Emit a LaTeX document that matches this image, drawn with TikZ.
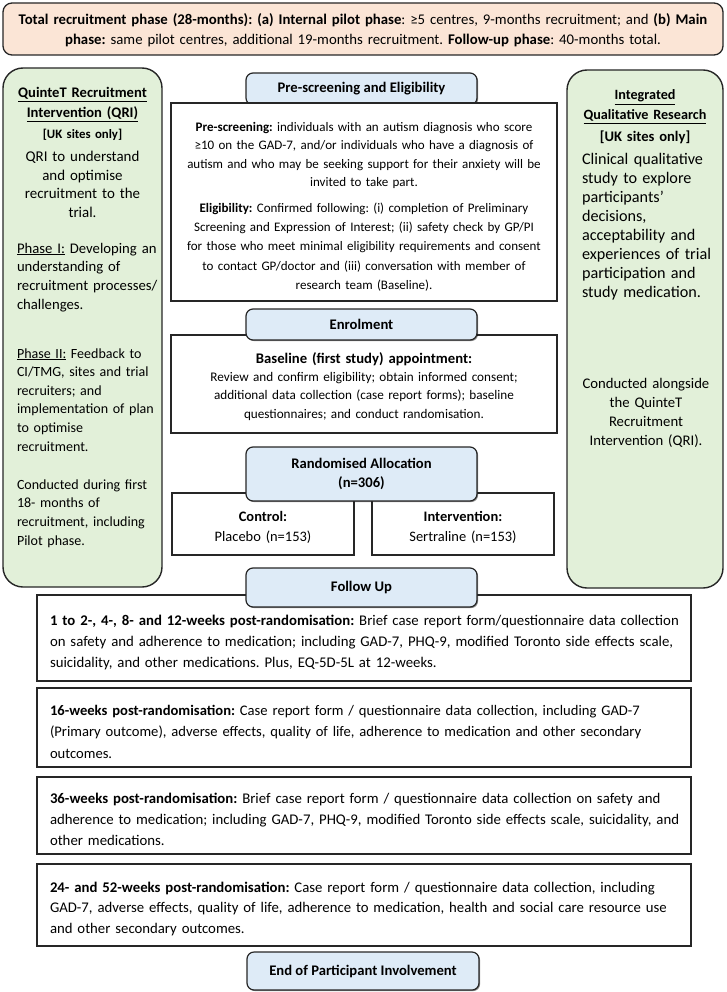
\documentclass[tikz,border=0pt]{standalone}
\usepackage{fontspec}
\setmainfont{Carlito}
\usetikzlibrary{shadows}
\definecolor{peach}{HTML}{FBE5D6}
\definecolor{lgreen}{HTML}{E2F0D9}
\definecolor{lblue}{HTML}{DEEBF7}
\definecolor{edge}{HTML}{262626}
\frenchspacing
\newcommand\fitfont[3]{%
  \setbox0=\hbox{\frenchspacing\fontsize{10}{12}\selectfont #3}%
  \dimen0=\wd0\relax
  \pgfmathsetmacro#1{0.97*10*#2/\the\dimen0}}
\begin{document}%
\fitfont\fsTop{687}{\textbf{Total recruitment phase (28-months): (a) Internal pilot phase}: ≥5 centres, 9-months recruitment; and \textbf{(b) Main}}%
\fitfont\fsQh{131}{\bfseries QuinteT Recruitment}%
\fitfont\fsQuk{79}{\bfseries [UK sites only]}%
\fitfont\fsQaim{114}{QRI to understand}%
\fitfont\fsQbodyA{139}{Phase I: Developing an}%
\fitfont\fsQbodyB{138}{implementation of plan}%
\fitfont\fsQbodyC{131}{Conducted during first}%
\fitfont\fsIh{125}{\bfseries Qualitative Research}%
\fitfont\fsIuk{90}{\bfseries [UK sites only]}%
\fitfont\fsIbody{123}{Clinical qualitative}%
\fitfont\fsIcon{129}{Conducted alongside}%
\fitfont\fsHdr{173}{\bfseries Pre-screening and Eligibility}%
\fitfont\fsPre{337}{\textbf{Pre-screening:} individuals with an autism diagnosis who score}%
\fitfont\fsEnh{218}{\bfseries Baseline (first study) appointment:}%
\fitfont\fsEnr{308}{Review and confirm eligibility; obtain informed consent;}%
\fitfont\fsCtl{109}{Sertraline (n=153)}%
\fitfont\fsFuA{627}{\textbf{1 to 2-, 4-, 8- and 12-weeks post-randomisation:} Brief case report form/questionnaire data collection}%
\fitfont\fsFuB{592}{\textbf{16-weeks post-randomisation:} Case report form / questionnaire data collection, including GAD-7}%
\fitfont\fsFuC{629}{adherence to medication; including GAD-7, PHQ-9, modified Toronto side effects scale, suicidality, and}%
\fitfont\fsFuD{613}{GAD-7, adverse effects, quality of life, adherence to medication, health and social care resource use}%
\begin{tikzpicture}[x=1pt,y=-1pt,
  every node/.style={inner sep=0pt, outer sep=0pt},
  shad/.style={drop shadow={shadow xshift=1.1pt, shadow yshift=-1.1pt, opacity=0.45, fill=black}},
  wbox/.style={draw=edge, line width=1.3pt, fill=white, rectangle, anchor=north west, shad},
  hdr/.style={draw=edge, line width=1.2pt, fill=lblue, rounded corners=7pt, minimum width=231pt, anchor=north, align=center, shad, font=\fontsize{\fsHdr}{19}\selectfont\bfseries},
  gbox/.style={draw=edge, line width=1.4pt, fill=lgreen, rounded corners=20pt, anchor=north west},
  ctext/.style={text width=#1, align=center, anchor=base},
  ltext/.style={text width=#1, align=left, anchor=base west}
]
\useasboundingbox (0,0) rectangle (726,992);

% top banner
\node[draw=edge, line width=1.3pt, fill=peach, rounded corners=9pt, minimum width=720pt, minimum height=52pt, anchor=north west] (top) at (3,3) {};
\node[ctext=718pt, font=\fontsize{\fsTop}{20}\selectfont] (toptxt) at (363,25) {\textbf{Total recruitment phase (28-months): (a) Internal pilot phase}: ≥5 centres, 9-months recruitment; and \textbf{(b) Main}\\\textbf{phase:} same pilot centres, additional 19-months recruitment. \textbf{Follow-up phase}: 40-months total.};

% left green box
\node[gbox, minimum width=159pt, minimum height=519pt] (qri) at (3,68) {};
\node[ctext=155pt, font=\fontsize{\fsQh}{20}\selectfont\bfseries] (qrih) at (82.5,98) {\underline{QuinteT Recruitment}\\\underline{Intervention (QRI)}};
\node[ctext=155pt, font=\fontsize{\fsQuk}{18}\selectfont\bfseries] (qriuk) at (82.5,138.5) {[UK sites only]};
\node[ctext=155pt, font=\fontsize{\fsQaim}{18.5}\selectfont] (qriaim) at (82.5,162) {QRI to understand\\and optimise\\recruitment to the\\trial.};
\node[ltext=150pt, font=\fontsize{\fsQbodyA}{18.7}\selectfont] (qrip1) at (17,253) {\underline{Phase I:} Developing an\\understanding of\\recruitment processes/\\challenges.};
\node[ltext=150pt, font=\fontsize{\fsQbodyB}{18.6}\selectfont] (qrip2) at (17,358) {\underline{Phase II:} Feedback to\\CI/TMG, sites and trial\\recruiters; and\\implementation of plan\\to optimise\\recruitment.};
\node[ltext=150pt, font=\fontsize{\fsQbodyC}{18.7}\selectfont] (qrip3) at (17,489) {Conducted during first\\18- months of\\recruitment, including\\Pilot phase.};

% right green box
\node[gbox, minimum width=156pt, minimum height=518pt] (iqr) at (567,70) {};
\node[ctext=152pt, font=\fontsize{\fsIh}{20}\selectfont\bfseries] (iqrh) at (645,100) {\underline{Integrated}\\\underline{Qualitative Research}};
\node[ctext=152pt, font=\fontsize{\fsIuk}{18}\selectfont\bfseries] (iqruk) at (645,142) {[UK sites only]};
\node[ltext=140pt, font=\fontsize{\fsIbody}{19}\selectfont] (iqrbody) at (582,165) {Clinical qualitative\\study to explore\\participants’\\decisions,\\acceptability and\\experiences of trial\\participation and\\study medication.};
\node[ctext=152pt, font=\fontsize{\fsIcon}{19}\selectfont] (iqrcon) at (646,388) {Conducted alongside\\the QuinteT\\Recruitment\\Intervention (QRI).};

% pre-screening
\node[hdr, minimum height=32pt] (hpre) at (361.5,73) {Pre-screening and Eligibility};
\node[wbox, minimum width=386pt, minimum height=198pt] (pre) at (171,103) {};
\node[ctext=384pt, font=\fontsize{\fsPre}{18.4}\selectfont] (pretxt1) at (364,131.5) {\textbf{Pre-screening:} individuals with an autism diagnosis who score\\≥10 on the GAD-7, and/or individuals who have a diagnosis of\\autism and who may be seeking support for their anxiety will be\\invited to take part.};
\node[ctext=384pt, font=\fontsize{\fsPre}{19.2}\selectfont] (pretxt2) at (364,212.5) {\textbf{Eligibility:} Confirmed following: (i) completion of Preliminary\\Screening and Expression of Interest; (ii) safety check by GP/PI\\for those who meet minimal eligibility requirements and consent\\to contact GP/doctor and (iii) conversation with member of\\research team (Baseline).};

% enrolment
\node[wbox, minimum width=386pt, minimum height=98pt] (enr) at (171,335) {};
\node[hdr, minimum height=31pt] (henr) at (361.5,309) {Enrolment};
\node[ctext=384pt, font=\fontsize{\fsEnh}{19}\selectfont\bfseries] (enrh) at (364,363) {Baseline (first study) appointment:};
\node[ctext=384pt, font=\fontsize{\fsEnr}{18.3}\selectfont] (enrtxt) at (364,381.5) {Review and confirm eligibility; obtain informed consent;\\additional data collection (case report forms); baseline\\questionnaires; and conduct randomisation.};

% allocation
\node[wbox, minimum width=182pt, minimum height=62pt] (ctl) at (172,493) {};
\node[wbox, minimum width=182pt, minimum height=62pt] (itv) at (372,493) {};
\node[hdr, minimum height=54pt] (hran) at (361.5,447) {Randomised Allocation\\(n=306)};
\node[ctext=178pt, font=\fontsize{\fsCtl}{20}\selectfont] (ctltxt) at (263,521.5) {\textbf{Control:}\\Placebo (n=153)};
\node[ctext=178pt, font=\fontsize{\fsCtl}{20}\selectfont] (itvtxt) at (463,521.5) {\textbf{Intervention:}\\Sertraline (n=153)};

% follow-up
\node[wbox, minimum width=654pt, minimum height=86pt] (fu1) at (37,595) {};
\node[hdr, minimum height=39pt] (hfu) at (361.5,568) {Follow Up};
\node[ltext=660pt, font=\fontsize{\fsFuA}{21.2}\selectfont] (fu1txt) at (50,625) {\textbf{1 to 2-, 4-, 8- and 12-weeks post-randomisation:} Brief case report form/questionnaire data collection\\on safety and adherence to medication; including GAD-7, PHQ-9, modified Toronto side effects scale,\\suicidality, and other medications. Plus, EQ-5D-5L at 12-weeks.};

\node[wbox, minimum width=654pt, minimum height=79pt] (fu2) at (37,688) {};
\node[ltext=660pt, font=\fontsize{\fsFuB}{21.5}\selectfont] (fu2txt) at (50,715) {\textbf{16-weeks post-randomisation:} Case report form / questionnaire data collection, including GAD-7\\(Primary outcome), adverse effects, quality of life, adherence to medication and other secondary\\outcomes.};

\node[wbox, minimum width=654pt, minimum height=77pt] (fu3) at (37,777) {};
\node[ltext=660pt, font=\fontsize{\fsFuC}{21.2}\selectfont] (fu3txt) at (50,803) {\textbf{36-weeks post-randomisation:} Brief case report form / questionnaire data collection on safety and\\adherence to medication; including GAD-7, PHQ-9, modified Toronto side effects scale, suicidality, and\\other medications.};

\node[wbox, minimum width=654pt, minimum height=82pt] (fu4) at (37,864) {};
\node[ltext=660pt, font=\fontsize{\fsFuD}{20.8}\selectfont] (fu4txt) at (50,892) {\textbf{24- and 52-weeks post-randomisation:} Case report form / questionnaire data collection, including\\GAD-7, adverse effects, quality of life, adherence to medication, health and social care resource use\\and other secondary outcomes.};

\node[hdr, minimum width=232pt, minimum height=38pt] (hend) at (363,952) {End of Participant Involvement};
\end{tikzpicture}
\end{document}
